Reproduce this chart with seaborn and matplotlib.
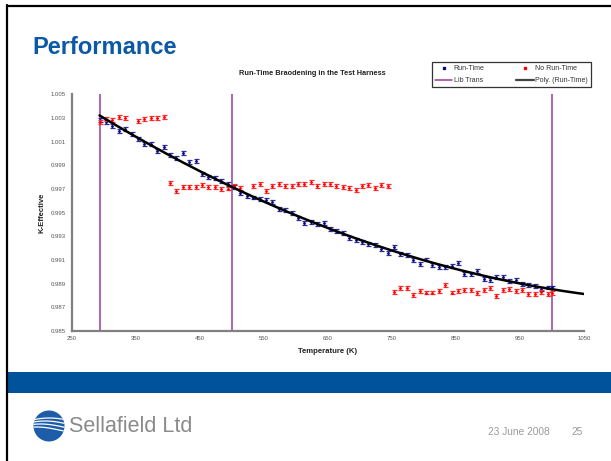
import numpy as np
import matplotlib
matplotlib.use("Agg")
import matplotlib.pyplot as plt
from matplotlib.lines import Line2D
from matplotlib.patches import Rectangle, Circle
import seaborn as sns

# Run-Time series (temperature in K, k-effective)
run_temps = [293, 303, 313, 323, 333, 343, 353, 363, 373, 383, 393, 403, 413, 423, 433,
             443, 453, 463, 473, 483, 493, 503, 513, 523, 533, 543, 553, 563, 573, 583,
             593, 603, 613, 623, 633, 643, 653, 663, 673, 683, 693, 703, 713, 723, 733,
             743, 753, 763, 773, 783, 793, 803, 813, 823, 833, 843, 853, 863, 873, 883,
             893, 903, 913, 923, 933, 943, 953, 963, 973, 983, 993, 1000]
run_keff = [1.00280, 1.00269, 1.00235, 1.00193, 1.00204, 1.00167, 1.00125, 1.00078, 1.00078,
            1.00024, 1.00057, 0.99990, 0.99959, 1.00002, 0.99928, 0.99934, 0.99827, 0.99804,
            0.99793, 0.99768, 0.99745, 0.99714, 0.99664, 0.99643, 0.99628, 0.99618, 0.99607,
            0.99588, 0.99528, 0.99522, 0.99500, 0.99457, 0.99410, 0.99424, 0.99402, 0.99415,
            0.99359, 0.99342, 0.99331, 0.99288, 0.99266, 0.99255, 0.99233, 0.99224, 0.99190,
            0.99157, 0.99212, 0.99151, 0.99145, 0.99097, 0.99069, 0.99104, 0.99060, 0.99043,
            0.99043, 0.99052, 0.99075, 0.98982, 0.98982, 0.99004, 0.98938, 0.98933, 0.98956,
            0.98959, 0.98925, 0.98931, 0.98895, 0.98891, 0.98880, 0.98853, 0.98868, 0.98868]

# No Run-Time series
norun_temps = [293, 303, 313, 323, 333, 353, 363, 373, 383, 393, 403, 413, 423, 433, 443,
               453, 463, 473, 483, 493, 503, 513, 533, 543, 553, 563, 573, 583, 593, 603,
               613, 623, 633, 643, 653, 663, 673, 683, 693, 703, 713, 723, 733, 743, 753,
               763, 773, 783, 793, 803, 813, 823, 833, 843, 853, 863, 873, 883, 893, 903,
               913, 923, 933, 943, 953, 963, 973, 983, 993, 1000]
norun_keff = [1.00264, 1.00291, 1.00283, 1.00311, 1.00297, 1.00277, 1.00291, 1.00302, 1.00297,
              1.00311, 0.99753, 0.99686, 0.99719, 0.99719, 0.99717, 0.99731, 0.99714, 0.99719,
              0.99702, 0.99704, 0.99728, 0.99711, 0.99728, 0.99740, 0.99686, 0.99728, 0.99742,
              0.99725, 0.99723, 0.99740, 0.99742, 0.99757, 0.99725, 0.99742, 0.99742, 0.99725,
              0.99714, 0.99706, 0.99694, 0.99725, 0.99736, 0.99706, 0.99736, 0.99723, 0.98827,
              0.98861, 0.98861, 0.98804, 0.98841, 0.98825, 0.98825, 0.98841, 0.98889, 0.98825,
              0.98835, 0.98844, 0.98844, 0.98821, 0.98846, 0.98861, 0.98793, 0.98849, 0.98853,
              0.98841, 0.98846, 0.98811, 0.98811, 0.98832, 0.98815, 0.98821]

keff_sigma = 0.00016            # one-sigma statistical uncertainty on each k-eff
lib_trans_temps = [293, 500, 1000]  # library temperature transitions
trend_end = 1050

x_ticks = [250, 350, 450, 550, 650, 750, 850, 950, 1050]
y_ticks = [0.985, 0.987, 0.989, 0.991, 0.993, 0.995, 0.997, 0.999, 1.001, 1.003, 1.005]

BLUE = "#0A0A82"
BLUE_BAR = "#2A2A9A"
RED = "#FF0000"
RED_BAR = "#FF2A2A"
PURPLE = "#9A3A9A"
SLIDE_BLUE = "#00529B"

sns.set_theme(style="white")
plt.rcParams["font.family"] = ["Liberation Sans", "DejaVu Sans"]

W, H = 611, 461
fig = plt.figure(figsize=(W / 100, H / 100), dpi=100, facecolor="white")

# ---- slide furniture ----
fig.add_artist(Line2D([6.5 / W, 6.5 / W], [0, 1 - 5.5 / H], transform=fig.transFigure,
                      color="black", lw=1.6))
fig.add_artist(Line2D([6.5 / W, 1], [1 - 6 / H, 1 - 6 / H], transform=fig.transFigure,
                      color="black", lw=1.6))
fig.add_artist(Rectangle((7.5 / W, 1 - 393 / H), 1, 21 / H, transform=fig.transFigure,
                         color=SLIDE_BLUE, lw=0))
fig.text(32 / W, 1 - 47 / H, "Performance", fontsize=17, fontweight="bold",
         color="#0B58A4", ha="left", va="center")

# company logo: blue disc with white waves
logo = Circle((0.49, (H - 426) / 100), 0.155, transform=fig.dpi_scale_trans,
              facecolor="#1C5CA8", edgecolor="none")
fig.add_artist(logo)
t = np.linspace(-0.2, 0.2, 60)
for k, off in enumerate([0.05, 0.02, -0.01, -0.04]):
    wave = Line2D(0.49 + t - 0.02, (H - 426) / 100 + off + 0.05 * np.sin((t + 0.2) * 7 + k * 0.3) * 0.6,
                  transform=fig.dpi_scale_trans, color="white", lw=0.9)
    fig.add_artist(wave)
    wave.set_clip_path(logo)
fig.text(69 / W, 1 - 426 / H, "Sellafield Ltd", fontsize=15.5, color="#8A8A8A",
         ha="left", va="center")
fig.text(488 / W, 1 - 431.5 / H, "23 June 2008", fontsize=7.3, color="#9A9A9A",
         ha="left", va="center")
fig.text(571 / W, 1 - 431.5 / H, "25", fontsize=7.3, color="#9A9A9A",
         ha="left", va="center")

# ---- chart ----
ax = fig.add_axes([72 / W, 1 - 331 / H, (584 - 72) / W, (331 - 94.3) / H])
ax.set_facecolor("white")

for tx in lib_trans_temps:
    ax.axvline(tx, color=PURPLE, lw=1.1, zorder=1)

ax.errorbar(run_temps, run_keff, yerr=keff_sigma, fmt="none", ecolor=BLUE_BAR,
            elinewidth=0.9, capsize=1.8, capthick=0.9, zorder=2)
sns.scatterplot(x=run_temps, y=run_keff, ax=ax, color=BLUE, marker="D", s=2.5,
                edgecolor=BLUE, linewidth=0.2, zorder=2.5, legend=False)

ax.errorbar(norun_temps, norun_keff, yerr=keff_sigma, fmt="none", ecolor=RED_BAR,
            elinewidth=0.9, capsize=1.8, capthick=0.9, zorder=3)
sns.scatterplot(x=norun_temps, y=norun_keff, ax=ax, color=RED, marker="D", s=2.5,
                edgecolor=RED, linewidth=0.2, zorder=3.5, legend=False)

# second-order polynomial trend of the Run-Time points, projected to 1050 K
coef = np.polyfit(run_temps, run_keff, 2)
trend_x = np.linspace(run_temps[0], trend_end, 200)
sns.lineplot(x=trend_x, y=np.polyval(coef, trend_x), ax=ax, color="black", lw=1.8,
             zorder=4)

ax.set_xlim(250, 1050)
ax.set_ylim(0.985, 1.005)
ax.set_xticks(x_ticks)
ax.set_yticks(y_ticks)
ax.set_xticklabels([str(v) for v in x_ticks])
ax.set_yticklabels([f"{v:.3f}" for v in y_ticks])
ax.tick_params(axis="both", labelsize=4.3, labelcolor="#555555", color="black",
               width=0.8, length=2.5, pad=2)
ax.tick_params(axis="x", direction="inout", length=3)
ax.tick_params(axis="y", direction="out")
for side in ("top", "right"):
    ax.spines[side].set_visible(False)
for side in ("left", "bottom"):
    ax.spines[side].set_color("#808080")
    ax.spines[side].set_linewidth(1.6)
ax.grid(False)

ax.set_xlabel("Temperature (K)", fontsize=5.6, fontweight="bold", color="#222222")
ax.xaxis.set_label_coords(0.5, -(347.5 - 331) / (331 - 94.3))
ax.set_ylabel("K-Effective", fontsize=5.6, fontweight="bold", color="#222222")
ax.yaxis.set_label_coords(-(72 - 46) / 512, 0.5)

fig.text(312 / W, 1 - 73.5 / H, "Run-Time Braodening in the Test Harness", fontsize=5.3,
         fontweight="bold", color="#222222", ha="center", va="center")

handles = [
    Line2D([], [], ls="none", marker="s", ms=2.0, color=BLUE, label="Run-Time"),
    Line2D([], [], color=PURPLE, lw=1.1, label="Lib Trans"),
    Line2D([], [], ls="none", marker="s", ms=2.0, color=RED, label="No Run-Time"),
    Line2D([], [], color="#444444", lw=1.6, label="Poly. (Run-Time)"),
]
leg = fig.legend(handles=handles, ncol=2, loc="upper left",
                 bbox_to_anchor=(432 / W, 1 - 62 / H), bbox_transform=fig.transFigure,
                 fontsize=5, frameon=True, fancybox=False, borderpad=0.45,
                 handlelength=2.5, handletextpad=0.15, columnspacing=4.6,
                 labelspacing=0.75, borderaxespad=0)
leg.get_frame().set_edgecolor("black")
leg.get_frame().set_linewidth(0.9)
for txt in leg.get_texts():
    txt.set_color("#333333")

fig.savefig("out.png", dpi=100, facecolor="white")
